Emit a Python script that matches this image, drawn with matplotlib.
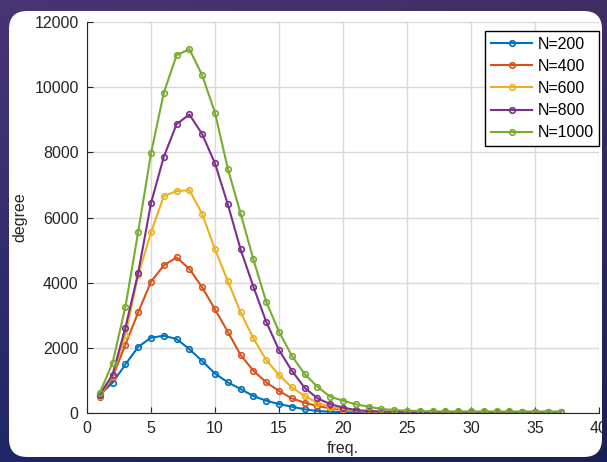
import numpy as np
import matplotlib.pyplot as plt
from matplotlib.patches import FancyBboxPatch

# data
freq = np.arange(1, 38)

deg_200 = [560, 930, 1490, 2030, 2310, 2370, 2270, 1960, 1595, 1210, 941, 736, 521, 377, 276, 194, 113, 61, 40, 25,
           15, 10, 6, 4, 3, 2, 2, 1, 1, 1, 0, 0, 0, 0, 0, 0, 0]
deg_400 = [480, 1100, 2100, 3090, 4030, 4530, 4775, 4420, 3855, 3180, 2494, 1779, 1299, 941, 675, 450, 316, 215, 144, 92,
           60, 40, 28, 20, 14, 10, 8, 6, 5, 4, 3, 3, 2, 2, 2, 1, 1]
deg_600 = [520, 1150, 2400, 4230, 5540, 6656, 6810, 6840, 6110, 5020, 4055, 3088, 2291, 1626, 1166, 787, 521, 316, 194, 113,
           70, 45, 30, 20, 15, 12, 10, 8, 7, 6, 5, 5, 4, 4, 4, 3, 3]
deg_800 = [560, 1180, 2620, 4300, 6440, 7862, 8865, 9162, 8558, 7659, 6406, 5021, 3875, 2800, 1933, 1299, 777, 450, 276, 164,
           92, 60, 45, 38, 33, 30, 28, 26, 25, 24, 23, 22, 22, 21, 21, 20, 20]
deg_1000 = [620, 1540, 3260, 5560, 7966, 9826, 10982, 11166, 10368, 9212, 7500, 6125, 4714, 3415, 2494, 1758, 1196, 807, 500, 377,
            266, 194, 123, 92, 71, 60, 55, 50, 50, 48, 48, 47, 47, 46, 46, 45, 45]

series = [deg_200, deg_400, deg_600, deg_800, deg_1000]
labels = ["N=200", "N=400", "N=600", "N=800", "N=1000"]
colors = ["#0072BD", "#D95319", "#EDB120", "#7E2F8E", "#77AC30"]

plt.rcParams["font.family"] = ["Liberation Sans", "DejaVu Sans"]

W, H = 607, 462
fig = plt.figure(figsize=(W / 100, H / 100), dpi=100)

# slide-like background
bg = fig.add_axes([0, 0, 1, 1])
yy, xx = np.mgrid[0:1:200j, 0:1:200j]
top = np.array([0.29, 0.21, 0.46])
bot = np.array([0.12, 0.15, 0.40])
img = top[None, None, :] * (1 - yy[..., None]) + bot[None, None, :] * yy[..., None]
img = img * (1 - 0.15 * xx[..., None])
bg.imshow(img, aspect="auto", extent=[0, 1, 0, 1], origin="upper")
bg.set_xlim(0, 1)
bg.set_ylim(0, 1)
bg.axis("off")
panel = FancyBboxPatch((9 / W, 5 / H), 593 / W, 446 / H,
                       boxstyle="round,pad=0,rounding_size=0.03",
                       transform=bg.transAxes, facecolor="white", edgecolor="none",
                       mutation_aspect=W / H)
bg.add_patch(panel)

ax = fig.add_axes([87 / W, 49 / H, 512 / W, 391 / H])
for y, lab, c in zip(series, labels, colors):
    ax.plot(freq, y, "-o", color=c, label=lab, lw=1.5, ms=4, mfc="none", mew=1.2)

ax.set_xlim(0, 40)
ax.set_ylim(0, 12000)
ax.set_xticks(range(0, 41, 5))
ax.set_yticks(range(0, 12001, 2000))
ax.grid(True, color="#d9d9d9", lw=1)
ax.set_axisbelow(True)
for s in ["top", "right"]:
    ax.spines[s].set_visible(False)
for s in ["left", "bottom"]:
    ax.spines[s].set_color("#262626")
ax.tick_params(direction="in", length=4, colors="#262626", labelsize=11.5, pad=6)
ax.set_xlabel("freq.", fontsize=11.5, color="#262626", labelpad=3)
ax.set_ylabel("degree", fontsize=11.5, color="#262626", labelpad=5)

leg = ax.legend(loc="upper right", bbox_to_anchor=(1.0, 1 - 9 / 391),
                fontsize=11.5, fancybox=False, framealpha=1,
                edgecolor="black", handlelength=2.6, handletextpad=0.3,
                borderpad=0.35, labelspacing=0.45, borderaxespad=0)
leg.get_frame().set_linewidth(1)

fig.savefig("out.png", dpi=100)
